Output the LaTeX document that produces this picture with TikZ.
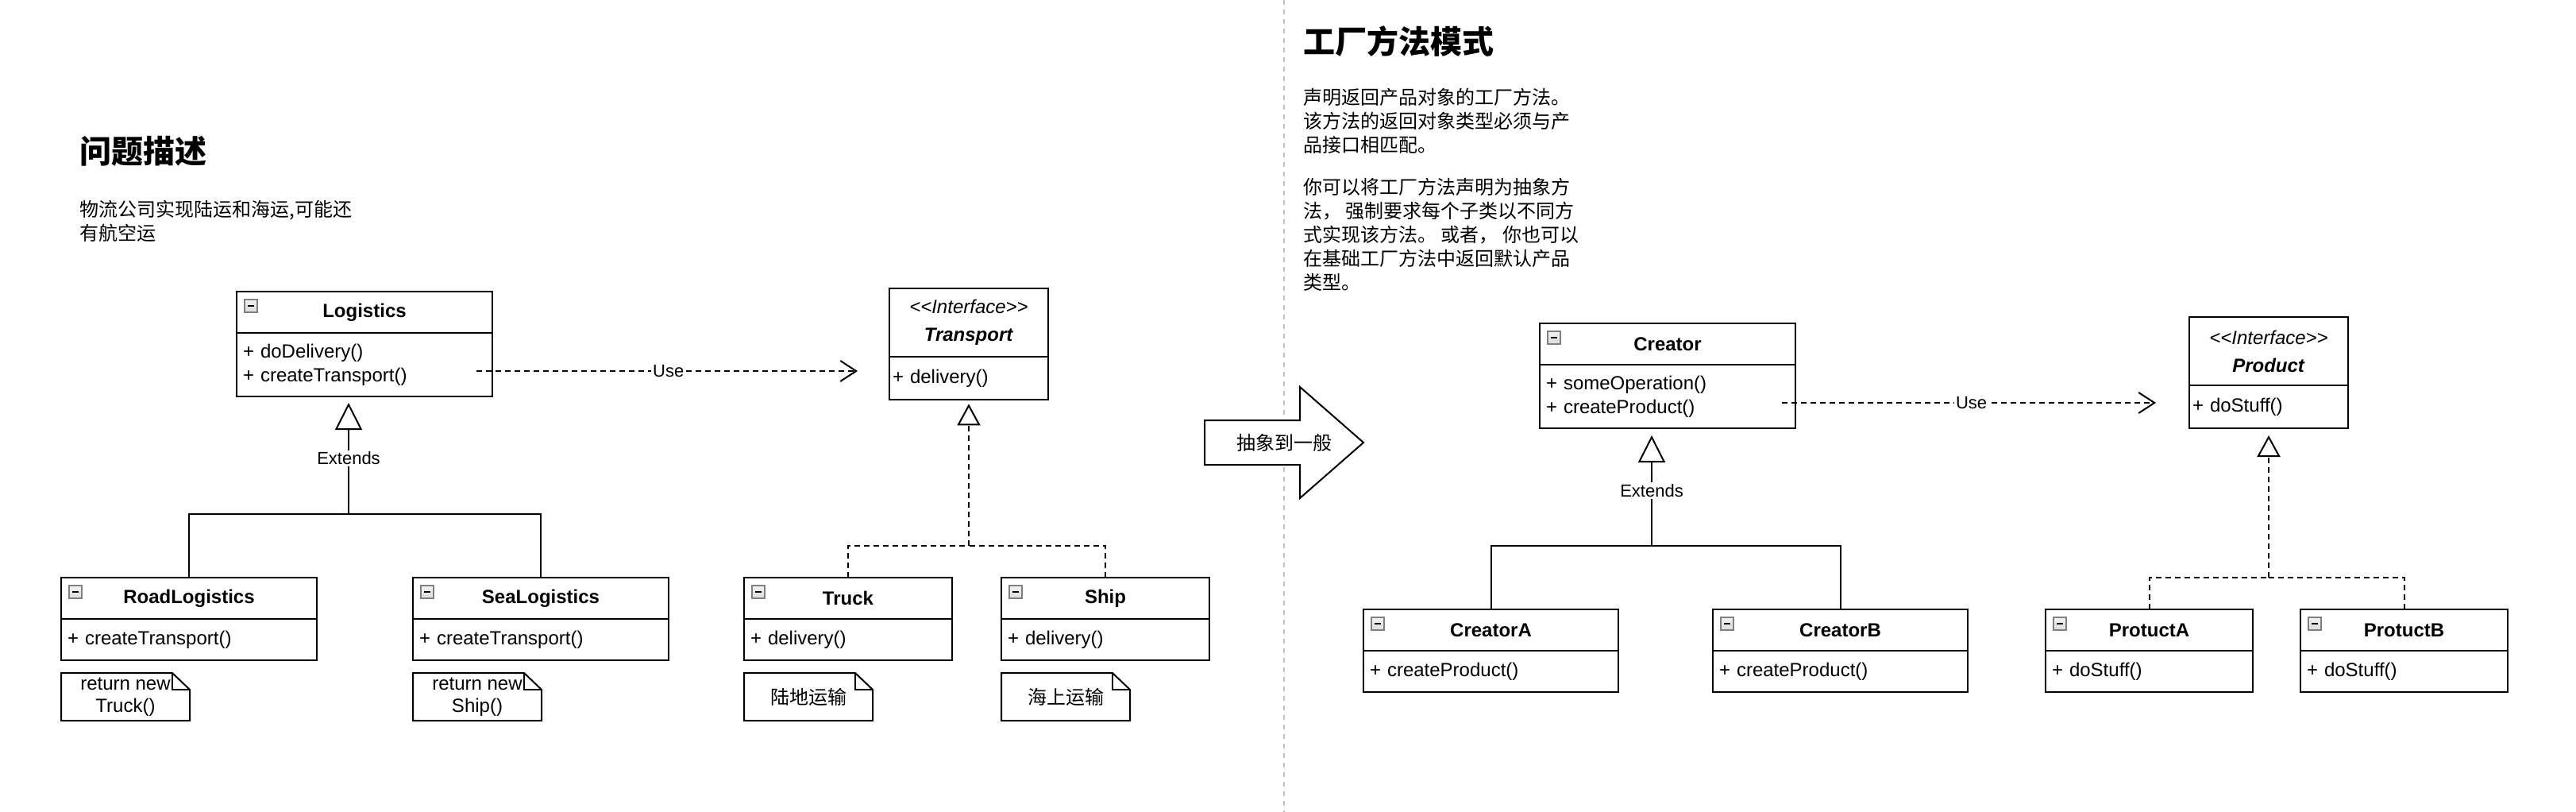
\documentclass[tikz,border=0pt]{standalone}
\usepackage{fontspec}
\setmainfont{Liberation Sans}
\newfontfamily\cjk{Noto Sans CJK SC}
\usetikzlibrary{positioning,arrows.meta}

\newcommand\foldnote[1]{%
  \draw[line width=1pt] (#1.north west) -- ([xshift=-11pt]#1.north east)
    -- ([yshift=-10.5pt]#1.north east) -- (#1.south east) -- (#1.south west) -- cycle;
  \draw[line width=1pt] ([xshift=-11pt]#1.north east) |- ([yshift=-10.5pt]#1.north east);}

\tikzset{
  umltext/.style={font=\fontsize{12}{15}\selectfont, outer sep=0pt},
  classhead/.style={umltext, draw, line width=1pt, anchor=north west,
    minimum height=26pt, inner sep=0pt, font=\fontsize{12}{15}\selectfont\bfseries,
    path picture={
      \draw[gray, line width=0.6pt, top color=white, bottom color=gray!55]
        ([shift={(5pt,-5pt)}]path picture bounding box.north west) rectangle ++(8pt,-8pt);
      \draw[black, line width=1.3pt]
        ([shift={(6.8pt,-9pt)}]path picture bounding box.north west) -- ++(4.4pt,0pt);}},
  ifacehead/.style={umltext, draw, line width=1pt, anchor=north west,
    minimum height=43pt, inner sep=0pt, align=center},
  classbody/.style={umltext, draw, line width=1pt, align=left,
    inner xsep=4pt, inner ysep=0pt, text width=#1},
  ifacebody/.style={classbody=#1, inner xsep=2pt},
  notebox/.style={umltext, anchor=north west, minimum width=81pt, minimum height=30pt,
    inner sep=0pt, align=center, font=\fontsize{12}{14}\selectfont},
  titletext/.style={font=\cjk\fontsize{20}{24}\selectfont\bfseries, inner sep=0pt, anchor=west},
  paratext/.style={font=\cjk\fontsize{12}{15}\selectfont, align=left, anchor=north west, inner sep=0pt},
  cjktext/.style={font=\cjk\fontsize{12}{15}\selectfont, inner sep=0pt},
  edgelabel/.style={fill=white, inner sep=1pt, font=\fontsize{11}{13}\selectfont},
  relation/.style={line width=1pt},
  realline/.style={relation, dash pattern=on 3.5pt off 2.5pt},
  extends/.style={relation, -{Triangle[open, length=17pt, width=17pt, fill=white]}},
  realizes/.style={realline, -{Triangle[open, length=13.5pt, width=14.5pt, fill=white]}},
  uses/.style={realline, -{Straight Barb[length=10pt, width=13pt]}},
  divider/.style={gray!50, line width=1pt, dash pattern=on 3pt off 3pt},
  bigarrow/.style={line width=1pt, fill=white}
}

\begin{document}
\begin{tikzpicture}[x=1pt, y=-1pt]
  \useasboundingbox (0,0) rectangle (1622,511);

  % dividing line and the arrow between the two halves
  \draw[divider] (808.5,0) -- (808.5,511);
  \draw[bigarrow] (758.5,264.5) -- ++(60,0) -- ++(0,-21) -- (858.5,278.5)
    -- (818.5,313.5) -- ++(0,-21) -- (758.5,292.5) -- cycle;
  \node[cjktext] (abstract) at (808.5,278.5) {抽象到一般};

  % left half: the problem
  \node[titletext] (problemTitle) at (50,95) {问题描述};
  \node[paratext] (problemText) at (50,126) {物流公司实现陆运和海运,可能还\\有航空运};

  \node[classhead, minimum width=161pt] (logistics) at (149,183.5) {Logistics};
  \node[classbody=153pt, minimum height=40pt, below=0pt of logistics] (logisticsOps)
    {+ doDelivery()\\+ createTransport()};

  \node[ifacehead, minimum width=100pt] (transport) at (560,181.5)
    {\textit{<\kern0pt<Interface>\kern0pt>}\\[2.5pt]\textbf{\textit{Transport}}};
  \node[ifacebody=96pt, minimum height=27pt, below=0pt of transport] (transportOps) {+ delivery()};

  \node[classhead, minimum width=161pt] (roadLogistics) at (38.5,363.5) {RoadLogistics};
  \node[classbody=153pt, minimum height=26pt, below=0pt of roadLogistics] (roadLogisticsOps)
    {+ createTransport()};
  \node[classhead, minimum width=161pt] (seaLogistics) at (260,363.5) {SeaLogistics};
  \node[classbody=153pt, minimum height=26pt, below=0pt of seaLogistics] (seaLogisticsOps)
    {+ createTransport()};

  \node[classhead, minimum width=131pt] (truck) at (468.5,363.5) {Truck};
  \node[classbody=123pt, minimum height=26pt, below=0pt of truck] (truckOps) {+ delivery()};
  \node[classhead, minimum width=131pt] (ship) at (630.5,363.5) {Ship};
  \node[classbody=123pt, minimum height=26pt, below=0pt of ship] (shipOps) {+ delivery()};

  \node[notebox] (roadNote) at (38.5,423.5) {return new\\Truck()};
  \foldnote{roadNote}
  \node[notebox] (seaNote) at (260,423.5) {return new\\Ship()};
  \foldnote{seaNote}
  \node[notebox, font=\cjk\fontsize{12}{14}\selectfont] (truckNote) at (468.5,423.5) {陆地运输};
  \foldnote{truckNote}
  \node[notebox, font=\cjk\fontsize{12}{14}\selectfont] (shipNote) at (630.5,423.5) {海上运输};
  \foldnote{shipNote}

  \coordinate (logisticsBus) at (219.5,323.5);
  \path (logisticsBus |- logisticsOps.south) ++(0,4) coordinate (logisticsTip);
  \draw[relation] (roadLogistics.north) |- (logisticsBus);
  \draw[relation] (seaLogistics.north) |- (logisticsBus);
  \draw[extends] (logisticsBus) -- node[edgelabel] {Extends} (logisticsTip);

  \coordinate (transportBus) at (610,343.5);
  \path (transportOps.south) ++(0,2.7) coordinate (transportTip);
  \draw[realline] (truck.north) |- (transportBus);
  \draw[realline] (ship.north) |- (transportBus);
  \draw[realizes] (transportBus) -- (transportTip);

  \coordinate (logisticsUse) at ([shift={(-10pt,-4pt)}]logisticsOps.east);
  \draw[uses, shorten >=20pt] (logisticsUse) -- node[edgelabel, pos=0.465] {Use}
    (logisticsUse -| transport.west);

  % right half: the pattern
  \node[titletext] (patternTitle) at (820.5,26) {工厂方法模式};
  \node[paratext] (patternText) at (820.5,55.2)
    {声明返回产品对象的工厂方法。\\该方法的返回对象类型必须与产\\品接口相匹配。\\[11.7pt]%
     你可以将工厂方法声明为抽象方\\法， 强制要求每个子类以不同方\\式实现该方法。 或者， 你也可以\\%
     在基础工厂方法中返回默认产品\\类型。};

  \node[classhead, minimum width=161pt] (creator) at (969.5,203.5) {Creator};
  \node[classbody=153pt, minimum height=40pt, below=0pt of creator] (creatorOps)
    {+ someOperation()\\+ createProduct()};

  \node[ifacehead, minimum width=100pt] (product) at (1378.5,199.5)
    {\textit{<\kern0pt<Interface>\kern0pt>}\\[2.5pt]\textbf{\textit{Product}}};
  \node[ifacebody=96pt, minimum height=27pt, below=0pt of product] (productOps) {+ doStuff()};

  \node[classhead, minimum width=160.5pt] (creatorA) at (858.5,383.5) {CreatorA};
  \node[classbody=152.5pt, minimum height=26pt, below=0pt of creatorA] (creatorAOps)
    {+ createProduct()};
  \node[classhead, minimum width=160.5pt] (creatorB) at (1078.5,383.5) {CreatorB};
  \node[classbody=152.5pt, minimum height=26pt, below=0pt of creatorB] (creatorBOps)
    {+ createProduct()};

  \node[classhead, minimum width=130.5pt] (protuctA) at (1288,383.5) {ProtuctA};
  \node[classbody=122.5pt, minimum height=26pt, below=0pt of protuctA] (protuctAOps) {+ doStuff()};
  \node[classhead, minimum width=130.5pt] (protuctB) at (1448.5,383.5) {ProtuctB};
  \node[classbody=122.5pt, minimum height=26pt, below=0pt of protuctB] (protuctBOps) {+ doStuff()};

  \coordinate (creatorBus) at (1040,343.5);
  \path (creatorBus |- creatorOps.south) ++(0,4.5) coordinate (creatorTip);
  \draw[relation] (creatorA.north) |- (creatorBus);
  \draw[relation] (creatorB.north) |- (creatorBus);
  \draw[extends] (creatorBus) -- node[edgelabel] {Extends} (creatorTip);

  \coordinate (productBus) at (1428.5,363.5);
  \path (productOps.south) ++(0,4.5) coordinate (productTip);
  \draw[realline] (protuctA.north) |- (productBus);
  \draw[realline] (protuctB.north) |- (productBus);
  \draw[realizes] (productBus) -- (productTip);

  \coordinate (creatorUse) at ([shift={(-8.5pt,-4pt)}]creatorOps.east);
  \draw[uses, shorten >=21pt] (creatorUse) -- node[edgelabel, pos=0.465] {Use}
    (creatorUse -| product.west);
\end{tikzpicture}
\end{document}
